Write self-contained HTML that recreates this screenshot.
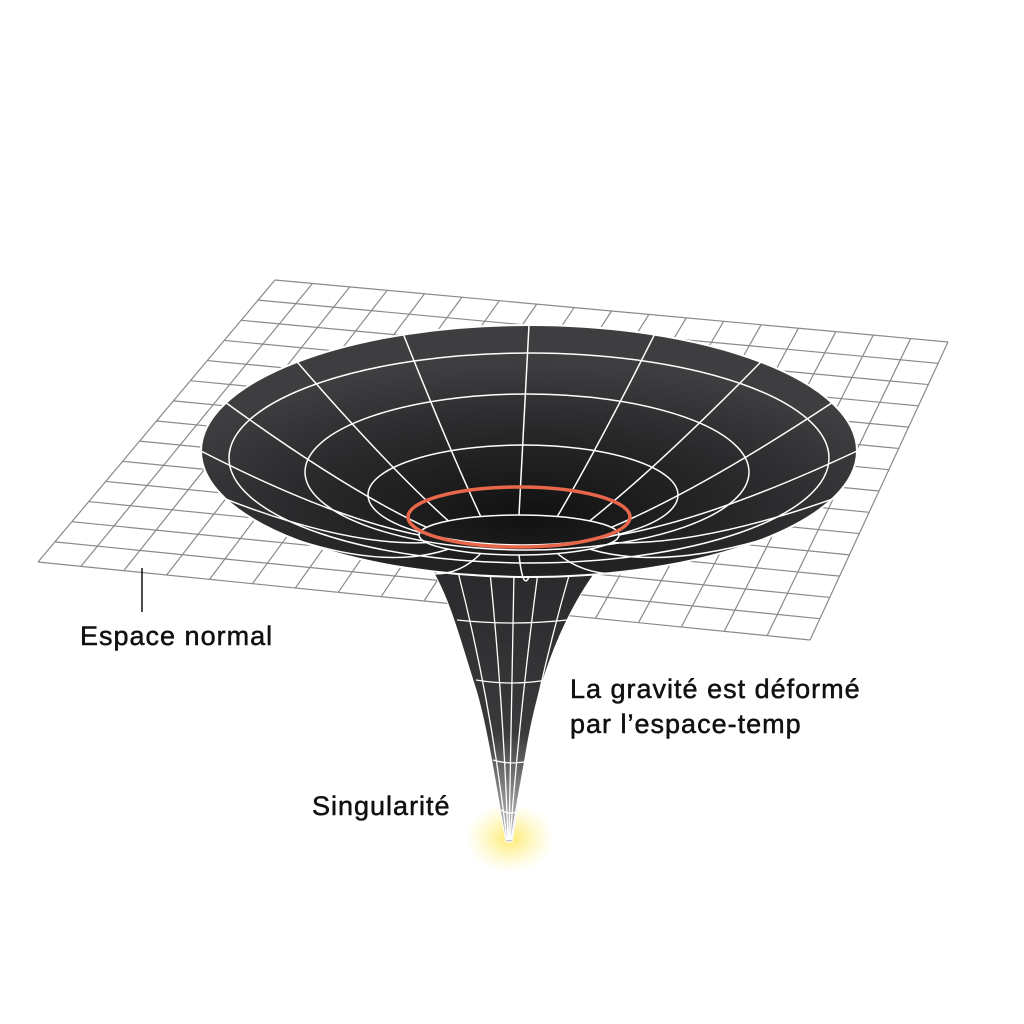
<!DOCTYPE html>
<html><head><meta charset="utf-8"><style>
html,body{margin:0;background:#fff;}
svg{display:block;}
text{font-family:"Liberation Sans",sans-serif;font-size:27px;letter-spacing:1px;fill:#111;stroke:#111;stroke-width:0.5px;}
</style></head><body>
<svg id="s" width="1024" height="1024" viewBox="0 0 1024 1024">
<defs>
<radialGradient id="glow" cx="0.5" cy="0.5" r="0.5">
<stop offset="0" stop-color="#ffe866" stop-opacity="0.95"/>
<stop offset="1" stop-color="#fff6a0" stop-opacity="0"/>
</radialGradient>
<linearGradient id="neck" x1="0" y1="0" x2="0" y2="1">
<stop offset="0" stop-color="#2a2a2c"/>
<stop offset="0.6" stop-color="#3a3a3c"/>
<stop offset="1" stop-color="#c8c8c8"/>
</linearGradient>
<radialGradient id="bowl" cx="0.5" cy="0.75" r="0.6">
<stop offset="0" stop-color="#111"/>
<stop offset="0.6" stop-color="#2a2a2c"/>
<stop offset="1" stop-color="#3e3e40"/>
</radialGradient>
</defs>
<g id="grid"></g>
<ellipse cx="510" cy="838" rx="45" ry="35" fill="url(#glow)"/>
<path d="M432,570 C450,600 460,640 476,690 C488,730 498,800 506,842 L512,842 C520,800 525,740 540,690 C555,640 575,600 597,570 Z" fill="url(#neck)" stroke="#fff" stroke-width="1"/>
<g id="necklines" stroke="#fff" stroke-width="1.3" fill="none"></g>
<ellipse cx="529" cy="451" rx="328" ry="126" fill="url(#bowl)" stroke="#fff" stroke-width="2"/>
<g id="rings" stroke="#fff" stroke-width="1.5" fill="none"></g>
<ellipse cx="519" cy="517" rx="111" ry="30" fill="none" stroke="#e8674a" stroke-width="3.5"/>
<line x1="142" y1="568" x2="142" y2="612" stroke="#111" stroke-width="1.5"/>
<text x="80" y="645">Espace normal</text>
<text x="570" y="698">La gravité est déformé</text>
<text x="570" y="733">par l’espace-temp</text>
<text x="312" y="815">Singularité</text>
</svg>
<script>
const NS="http://www.w3.org/2000/svg";
const TL=[275,280],TR=[948,342],BL=[38,562],BR=[810,640];
const cols=18,rows=14;
function P(u,v){const a=[TL[0]+(TR[0]-TL[0])*u,TL[1]+(TR[1]-TL[1])*u],b=[BL[0]+(BR[0]-BL[0])*u,BL[1]+(BR[1]-BL[1])*u];return [a[0]+(b[0]-a[0])*v,a[1]+(b[1]-a[1])*v];}
const g=document.getElementById('grid');
function ln(par,x1,y1,x2,y2,c,w){const l=document.createElementNS(NS,'line');l.setAttribute('x1',x1);l.setAttribute('y1',y1);l.setAttribute('x2',x2);l.setAttribute('y2',y2);l.setAttribute('stroke',c);l.setAttribute('stroke-width',w);


par.appendChild(l);}
for(let i=0;i<=cols;i++){const a=P(i/cols,0),b=P(i/cols,1);ln(g,a[0],a[1],b[0],b[1],'#8a8a8a',1.2);}
for(let j=0;j<=rows;j++){const a=P(0,j/rows),b=P(1,j/rows);ln(g,a[0],a[1],b[0],b[1],'#8a8a8a',1.2);}
const rg=document.getElementById('rings');
const ringsD=[[529,458,300,105],[527,472,222,78],[523,495,155,50],[519,535,100,20]];
ringsD.forEach(r=>{const e=document.createElementNS(NS,'ellipse');e.setAttribute('cx',r[0]);e.setAttribute('cy',r[1]);e.setAttribute('rx',r[2]);e.setAttribute('ry',r[3]);


rg.appendChild(e);});
const n=16;
for(let k=0;k<n;k++){const t=k/n*2*Math.PI;const x1=529+328*Math.cos(t),y1=451+126*Math.sin(t);const x2=519+100*Math.cos(t),y2=535+20*Math.sin(t);
const p=document.createElementNS(NS,'path');const cx=(x1+x2)/2+(x2-x1)*0.1,cy=(y1+y2)/2+25;
p.setAttribute('d',`M${x1},${y1} Q${cx},${cy} ${x2},${y2}`);


rg.appendChild(p);}
const nl=document.getElementById('necklines');
const neckY=[620,680,760,810];
const neckW=[[457,567],[476,547],[493,532],[501,520]];
neckY.forEach((y,i)=>{const p=document.createElementNS(NS,'path');p.setAttribute('d',`M${neckW[i][0]},${y} Q${(neckW[i][0]+neckW[i][1])/2},${y+6} ${neckW[i][1]},${y}`);


nl.appendChild(p);});
[-0.7,-0.3,0,0.3,0.7].forEach(f=>{const p=document.createElementNS(NS,'path');
p.setAttribute('d',`M${514+f*80},572 Q${512+f*30},700 ${509+f*3},840`);


nl.appendChild(p);});
</script>
</body></html>
